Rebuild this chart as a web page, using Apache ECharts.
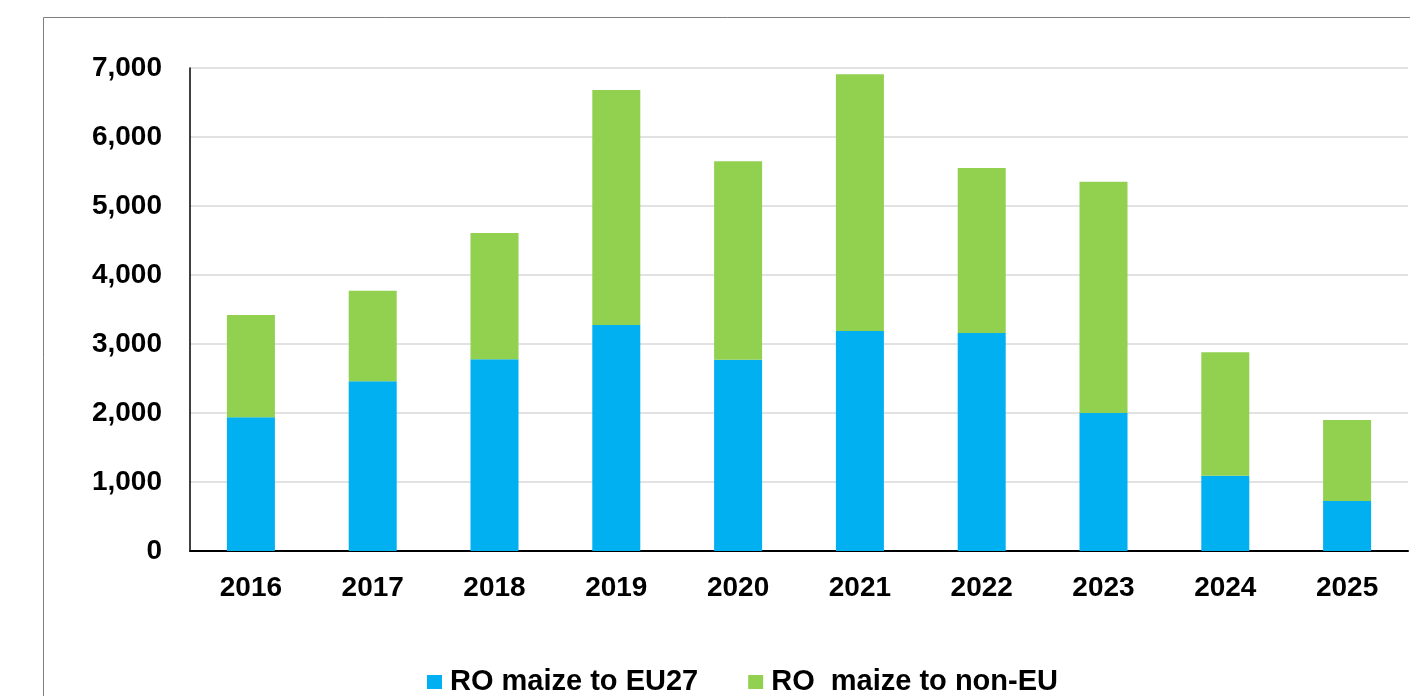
<!DOCTYPE html>
<html>
<head>
<meta charset="utf-8">
<script src="https://cdn.jsdelivr.net/npm/echarts@6/dist/echarts.min.js"></script>
<style>
  html, body { margin: 0; padding: 0; background: #fff; }
  #main { width: 1410px; height: 696px; }
</style>
</head>
<body>
<div id="main"></div>
<script>
const years = ["2016", "2017", "2018", "2019", "2020", "2021", "2022", "2023", "2024", "2025"];
const toEU27 = [1940, 2460, 2780, 3275, 2770, 3190, 3160, 2000, 1090, 725];
const toNonEU = [1480, 1310, 1830, 3405, 2880, 3720, 2390, 3350, 1790, 1175];
const yTicks = [0, 1000, 2000, 3000, 4000, 5000, 6000, 7000];

const font = "'Liberation Sans', Arial, sans-serif";

const myChart = echarts.init(document.getElementById("main"));

const option = {
  animation: false,
  backgroundColor: "#fff",
  graphic: [
    {
      type: "rect",
      shape: { x: 43.5, y: 17.5, width: 1400, height: 700 },
      style: { fill: "none", stroke: "#7f7f7f", lineWidth: 1 },
      silent: true,
    },
  ],
  grid: {
    left: 190,
    right: 2,
    top: 68,
    bottom: 145,
  },
  legend: {
    top: 666,
    left: 427,
    padding: 0,
    itemWidth: 15,
    itemHeight: 14,
    itemGap: 50,
    icon: "rect",
    textStyle: {
      fontFamily: font,
      fontSize: 29,
      lineHeight: 32,
      fontWeight: "bold",
      color: "#000",
      padding: [0, 0, 0, 3],
    },
    data: ["RO maize to EU27", "RO  maize to non-EU"],
  },
  xAxis: {
    type: "category",
    data: years,
    axisLine: { lineStyle: { color: "#000", width: 2 } },
    axisTick: { show: false },
    axisLabel: {
      margin: 23,
      fontFamily: font,
      fontSize: 28,
      fontWeight: "bold",
      color: "#000",
    },
  },
  yAxis: {
    type: "value",
    min: yTicks[0],
    max: yTicks[yTicks.length - 1],
    interval: 1000,
    axisLine: { show: true, lineStyle: { color: "#000", width: 1.5 } },
    axisTick: { show: false },
    splitLine: { lineStyle: { color: "#d9d9d9", width: 1.5 } },
    axisLabel: {
      margin: 28,
      fontFamily: font,
      fontSize: 28,
      fontWeight: "bold",
      color: "#000",
      formatter: function (v) {
        return v.toLocaleString("en-US");
      },
    },
  },
  series: [
    {
      name: "RO maize to EU27",
      type: "bar",
      stack: "total",
      barWidth: 48,
      data: toEU27,
      itemStyle: { color: "#00B0F0" },
    },
    {
      name: "RO  maize to non-EU",
      type: "bar",
      stack: "total",
      barWidth: 48,
      data: toNonEU,
      itemStyle: { color: "#92D050" },
    },
  ],
};

myChart.setOption(option);
</script>
</body>
</html>
